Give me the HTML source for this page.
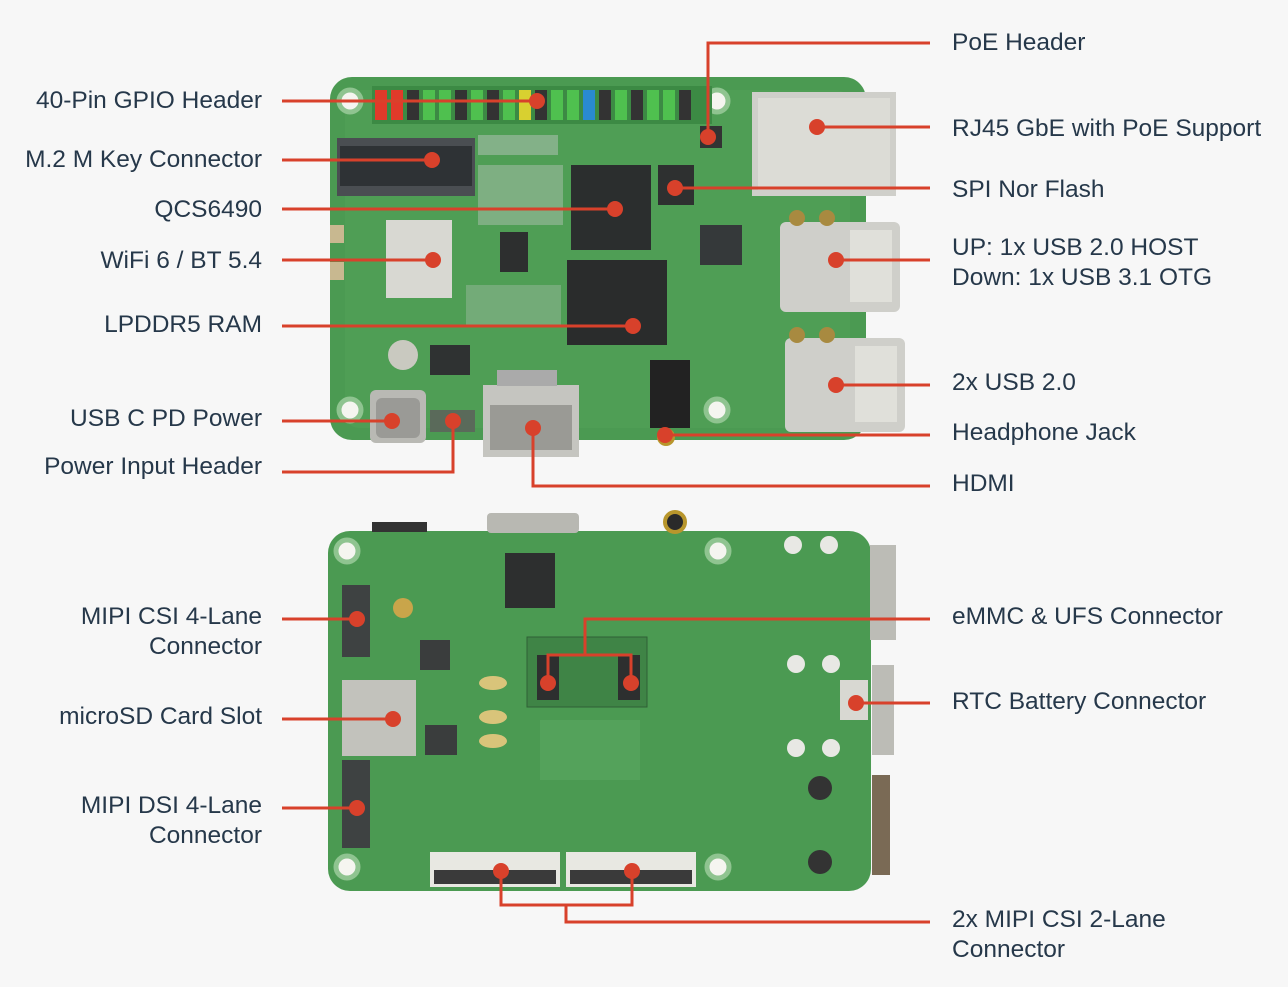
<!DOCTYPE html>
<html><head><meta charset="utf-8"><style>
html,body{margin:0;padding:0;background:#f7f7f7;}
body{width:1288px;height:987px;overflow:hidden;position:relative;font-family:"Liberation Sans",sans-serif;}
.l{position:absolute;font-size:24.5px;color:#26384a;line-height:30px;white-space:nowrap}
.r{text-align:right;right:1026px}
.rr{left:952px}
</style></head><body>
<svg width="1288" height="987" style="position:absolute;left:0;top:0">
<!-- TOP BOARD -->
<rect x="330" y="77" width="536" height="363" rx="22" fill="#4b9a52"/>
<rect x="345" y="90" width="505" height="338" rx="14" fill="#51a158" opacity="0.6"/>
<g fill="#f5f5f0" stroke="#8fc490" stroke-width="5">
<circle cx="350" cy="101" r="11"/><circle cx="717" cy="101" r="11"/><circle cx="350" cy="410" r="11"/><circle cx="717" cy="410" r="11"/></g>
<!-- GPIO -->
<g>
<rect x="372" y="86" width="340" height="38" fill="#3c8a44"/>
<g fill="#4fc04f">
<rect x="375" y="90" width="12" height="30" fill="#e03a2a"/><rect x="391" y="90" width="12" height="30" fill="#e03a2a"/>
<rect x="407" y="90" width="12" height="30" fill="#333"/><rect x="423" y="90" width="12" height="30"/><rect x="439" y="90" width="12" height="30"/>
<rect x="455" y="90" width="12" height="30" fill="#333"/><rect x="471" y="90" width="12" height="30"/><rect x="487" y="90" width="12" height="30" fill="#333"/>
<rect x="503" y="90" width="12" height="30"/><rect x="519" y="90" width="12" height="30" fill="#d8d030"/><rect x="535" y="90" width="12" height="30" fill="#333"/>
<rect x="551" y="90" width="12" height="30"/><rect x="567" y="90" width="12" height="30"/><rect x="583" y="90" width="12" height="30" fill="#2a8ad0"/>
<rect x="599" y="90" width="12" height="30" fill="#333"/><rect x="615" y="90" width="12" height="30"/><rect x="631" y="90" width="12" height="30" fill="#333"/>
<rect x="647" y="90" width="12" height="30"/><rect x="663" y="90" width="12" height="30"/><rect x="679" y="90" width="12" height="30" fill="#333"/>
</g></g>
<rect x="700" y="126" width="22" height="22" fill="#333"/>
<!-- M.2 -->
<rect x="337" y="138" width="138" height="58" fill="#4a4e52"/>
<rect x="340" y="146" width="132" height="40" fill="#2e3235"/>
<!-- chips -->
<rect x="571" y="165" width="80" height="85" fill="#2b2e2e"/>
<rect x="567" y="260" width="100" height="85" fill="#2a2c2c"/>
<rect x="658" y="165" width="36" height="40" fill="#2e3030"/>
<rect x="500" y="232" width="28" height="40" fill="#2d2f2f"/>
<rect x="700" y="225" width="42" height="40" fill="#35393a"/>
<g fill="#b8c3bb"><rect x="478" y="135" width="80" height="20" opacity="0.5"/><rect x="478" y="165" width="85" height="60" opacity="0.45"/><rect x="466" y="285" width="95" height="40" opacity="0.35"/></g>
<!-- wifi -->
<rect x="386" y="220" width="66" height="78" fill="#d8d8d2"/>
<rect x="330" y="225" width="14" height="18" fill="#c8b890"/><rect x="330" y="262" width="14" height="18" fill="#c8b890"/>
<circle cx="403" cy="355" r="15" fill="#c9c9c0"/>
<rect x="430" y="345" width="40" height="30" fill="#2f3232"/>
<!-- RJ45 -->
<rect x="752" y="92" width="144" height="104" fill="#cfcfca"/>
<rect x="758" y="98" width="132" height="92" fill="#dcdcd6"/>
<!-- USB -->
<rect x="780" y="222" width="120" height="90" rx="6" fill="#cfcfca"/>
<rect x="850" y="230" width="42" height="72" fill="#e0e0da"/>
<rect x="785" y="338" width="120" height="94" rx="6" fill="#cfcfca"/>
<rect x="855" y="346" width="42" height="76" fill="#e0e0da"/>
<circle cx="797" cy="218" r="8" fill="#a88a40"/><circle cx="827" cy="218" r="8" fill="#a88a40"/>
<circle cx="797" cy="335" r="8" fill="#a88a40"/><circle cx="827" cy="335" r="8" fill="#a88a40"/>
<!-- USB C -->
<rect x="370" y="390" width="56" height="53" rx="6" fill="#b9b9b4"/>
<rect x="376" y="398" width="44" height="40" rx="6" fill="#9a9a96"/>
<rect x="430" y="410" width="45" height="22" fill="#5a6a5a"/>
<!-- HDMI -->
<rect x="483" y="385" width="96" height="72" fill="#c5c5c0"/>
<rect x="490" y="405" width="82" height="45" fill="#9a9a95"/>
<rect x="497" y="370" width="60" height="16" fill="#aaa"/>
<!-- jack -->
<rect x="650" y="360" width="40" height="68" fill="#222"/>
<circle cx="666" cy="437" r="9" fill="#b8962c"/>
<!-- BOTTOM BOARD -->
<rect x="328" y="531" width="543" height="360" rx="22" fill="#4b9a52"/>
<rect x="487" y="513" width="92" height="20" rx="4" fill="#b8b8b2"/>
<rect x="372" y="522" width="55" height="10" fill="#333"/>
<circle cx="675" cy="522" r="10" fill="#2a2a2a" stroke="#b8962c" stroke-width="4"/>
<rect x="870" y="545" width="26" height="95" fill="#bcbcb6"/><rect x="872" y="665" width="22" height="90" fill="#bcbcb6"/><rect x="872" y="775" width="18" height="100" fill="#7a6a55"/>
<g fill="#f5f5f0" stroke="#8fc490" stroke-width="5">
<circle cx="347" cy="551" r="11"/><circle cx="718" cy="551" r="11"/><circle cx="347" cy="867" r="11"/><circle cx="718" cy="867" r="11"/></g>
<g fill="#e8e8e4"><circle cx="793" cy="545" r="9"/><circle cx="829" cy="545" r="9"/><circle cx="796" cy="664" r="9"/><circle cx="831" cy="664" r="9"/><circle cx="796" cy="748" r="9"/><circle cx="831" cy="748" r="9"/></g>
<circle cx="820" cy="788" r="12" fill="#333"/><circle cx="820" cy="862" r="12" fill="#333"/>
<rect x="505" y="553" width="50" height="55" fill="#2d2f2f"/>
<rect x="342" y="585" width="28" height="72" fill="#3e4242"/><rect x="342" y="760" width="28" height="88" fill="#3e4242"/>
<rect x="342" y="680" width="74" height="76" fill="#c2c2bc"/>
<circle cx="403" cy="608" r="10" fill="#c9a54a"/>
<rect x="420" y="640" width="30" height="30" fill="#3a3d3d"/><rect x="425" y="725" width="32" height="30" fill="#3a3d3d"/>
<g fill="#d9c47a"><ellipse cx="493" cy="683" rx="14" ry="7"/><ellipse cx="493" cy="717" rx="14" ry="7"/><ellipse cx="493" cy="741" rx="14" ry="7"/></g>
<rect x="527" y="637" width="120" height="70" fill="#3f8446" stroke="#2f6035"/>
<rect x="537" y="655" width="22" height="45" fill="#2d2f2f"/><rect x="618" y="655" width="22" height="45" fill="#2d2f2f"/>
<rect x="540" y="720" width="100" height="60" fill="#5aa862" opacity="0.6"/>
<rect x="840" y="680" width="28" height="40" fill="#d8d8d2"/>
<rect x="430" y="852" width="130" height="35" fill="#e8e8e2"/><rect x="566" y="852" width="130" height="35" fill="#e8e8e2"/>
<rect x="434" y="870" width="122" height="14" fill="#3a3a3a"/><rect x="570" y="870" width="122" height="14" fill="#3a3a3a"/>
<!-- LINES -->
<g stroke="#d8412b" stroke-width="3" fill="none">
<path d="M282 101H537"/><path d="M282 160H432"/><path d="M282 209H615"/><path d="M282 260H433"/><path d="M282 326H633"/><path d="M282 421H392"/>
<path d="M282 472H453V421"/>
<path d="M930 43H708V137"/><path d="M930 127H817"/><path d="M930 188H675"/><path d="M930 260H836"/><path d="M930 385H836"/><path d="M930 435H665"/>
<path d="M930 486H533V428"/>
<path d="M282 619H357"/><path d="M282 719H393"/><path d="M282 808H357"/>
<path d="M930 619H585V655H548V683M585 655H631V683"/><path d="M930 703H856"/>
<path d="M930 922H566V905H501V871M566 905H632V871"/>
</g>
<g fill="#d8412b">
<circle cx="537" cy="101" r="8"/><circle cx="432" cy="160" r="8"/><circle cx="615" cy="209" r="8"/><circle cx="433" cy="260" r="8"/><circle cx="633" cy="326" r="8"/><circle cx="392" cy="421" r="8"/><circle cx="453" cy="421" r="8"/>
<circle cx="708" cy="137" r="8"/><circle cx="817" cy="127" r="8"/><circle cx="675" cy="188" r="8"/><circle cx="836" cy="260" r="8"/><circle cx="836" cy="385" r="8"/><circle cx="665" cy="435" r="8"/><circle cx="533" cy="428" r="8"/>
<circle cx="357" cy="619" r="8"/><circle cx="393" cy="719" r="8"/><circle cx="357" cy="808" r="8"/><circle cx="548" cy="683" r="8"/><circle cx="631" cy="683" r="8"/><circle cx="856" cy="703" r="8"/><circle cx="501" cy="871" r="8"/><circle cx="632" cy="871" r="8"/>
</g>
</svg>
<div class="l r" style="top:86px">40-Pin GPIO Header</div>
<div class="l r" style="top:145px">M.2 M Key Connector</div>
<div class="l r" style="top:195px">QCS6490</div>
<div class="l r" style="top:246px">WiFi 6 / BT 5.4</div>
<div class="l r" style="top:310px">LPDDR5 RAM</div>
<div class="l r" style="top:404px">USB C PD Power</div>
<div class="l r" style="top:452px">Power Input Header</div>
<div class="l r" style="top:602px">MIPI CSI 4-Lane<br>Connector</div>
<div class="l r" style="top:702px">microSD Card Slot</div>
<div class="l r" style="top:791px">MIPI DSI 4-Lane<br>Connector</div>
<div class="l rr" style="top:28px">PoE Header</div>
<div class="l rr" style="top:114px">RJ45 GbE with PoE Support</div>
<div class="l rr" style="top:175px">SPI Nor Flash</div>
<div class="l rr" style="top:233px">UP: 1x USB 2.0 HOST<br>Down: 1x USB 3.1 OTG</div>
<div class="l rr" style="top:368px">2x USB 2.0</div>
<div class="l rr" style="top:418px">Headphone Jack</div>
<div class="l rr" style="top:469px">HDMI</div>
<div class="l rr" style="top:602px">eMMC &amp; UFS Connector</div>
<div class="l rr" style="top:687px">RTC Battery Connector</div>
<div class="l rr" style="top:905px">2x MIPI CSI 2-Lane<br>Connector</div>
</body></html>
